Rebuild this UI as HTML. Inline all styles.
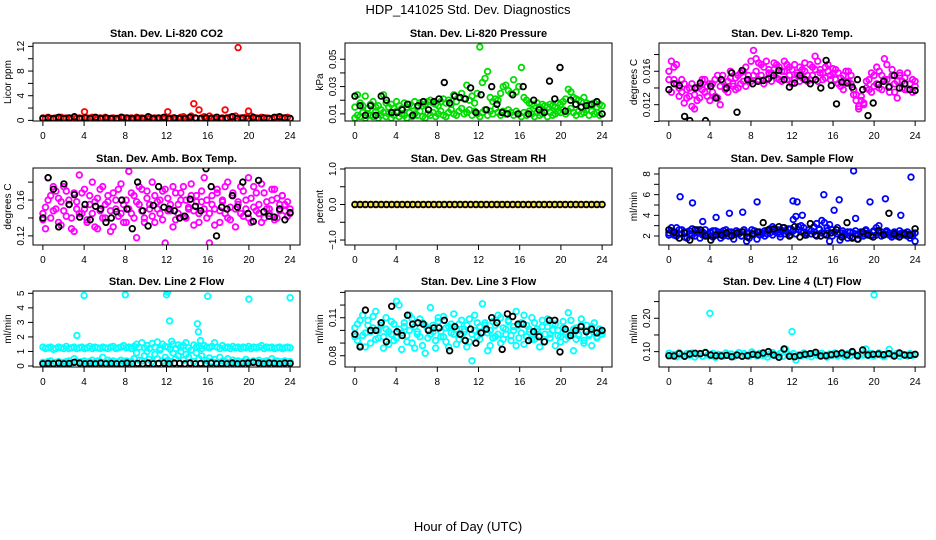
<!DOCTYPE html>
<html><head><meta charset="utf-8">
<style>
html,body{margin:0;padding:0;background:#fff;}
svg{display:block;font-family:"Liberation Sans",sans-serif;}
</style></head>
<body>
<svg id="chart" width="936" height="540" viewBox="0 0 936 540" xmlns="http://www.w3.org/2000/svg">
<text x="468" y="14" text-anchor="middle" font-size="13">HDP_141025  Std. Dev. Diagnostics</text>
<text x="468" y="531" text-anchor="middle" font-size="13">Hour of Day (UTC)</text>
</svg>
<script>
const co2Red=[0.4,0.3,0.5,0.3,0.2,0.4,0.3,0.5,0.3,0.4,0.2,0.3,0.5,0.3,0.4,0.3,1.4,0.4,0.3,0.5,0.3,0.2,0.4,0.3,0.5,0.3,0.3,0.4,0.2,0.3,0.5,0.4,0.3,0.3,0.4,0.2,0.5,0.3,0.4,0.3,0.3,0.5,0.2,0.4,0.3,0.3,0.4,0.3,1.4,0.3,0.4,0.2,0.3,0.5,0.6,0.3,0.4,0.7,2.7,0.3,1.7,0.4,0.6,0.3,0.7,0.4,0.3,0.5,0.3,0.4,1.7,0.3,0.5,0.6,0.7,11.8,0.4,0.3,0.5,1.5,0.7,0.3,0.4,0.3,0.5,0.3,0.4,0.3,0.2,0.4,0.5,0.3,0.4,0.3,0.5,0.3];
const co2Black=[0.3,0.4,0.3,0.5,0.3,0.4,0.6,0.3,0.4,0.3,0.5,0.3,0.4,0.3,0.3,0.5,0.4,0.3,0.4,0.3,0.6,0.3,0.4,0.5,0.3,0.4,0.3,0.3,0.5,0.4,0.3,0.4,0.3,0.5,0.3,0.4,0.6,0.3,0.4,0.3,0.5,0.3,0.4,0.3,0.5,0.6,0.4,0.3];
const pressLow=[0.007,0.009,0.008,0.011,0.007,0.010,0.009,0.008,0.012,0.007,0.009,0.011,0.008,0.010,0.007,0.009,0.012,0.008,0.010,0.009,0.007,0.011,0.008,0.010,0.009,0.012,0.008,0.007,0.010,0.009,0.011,0.008,0.010,0.012,0.009,0.008,0.011,0.013,0.010,0.009,0.012,0.014,0.010,0.011,0.013,0.009,0.012,0.010,0.008,0.011,0.013,0.009,0.012,0.010,0.014,0.011,0.009,0.012,0.010,0.013,0.011,0.009,0.012,0.010,0.008,0.011,0.009,0.012,0.010,0.008,0.011,0.009,0.010,0.012,0.008,0.011,0.009,0.010,0.012,0.011,0.013,0.010,0.012,0.014,0.011,0.009,0.012,0.010,0.011,0.013,0.009,0.012,0.010,0.011,0.009,0.010];
const pressHigh=[0.015,0.024,0.018,0.016,0.023,0.014,0.017,0.019,0.015,0.016,0.013,0.024,0.018,0.015,0.017,0.014,0.019,0.016,0.014,0.018,0.015,0.017,0.016,0.019,0.015,0.018,0.016,0.017,0.019,0.020,0.018,0.017,0.016,0.019,0.021,0.018,0.020,0.017,0.024,0.019,0.022,0.025,0.021,0.031,0.020,0.023,0.018,0.025,0.059,0.033,0.036,0.041,0.022,0.019,0.021,0.020,0.025,0.030,0.031,0.027,0.025,0.035,0.026,0.030,0.044,0.022,0.020,0.018,0.017,0.016,0.018,0.015,0.017,0.016,0.015,0.017,0.016,0.015,0.018,0.017,0.019,0.021,0.028,0.026,0.022,0.021,0.020,0.019,0.022,0.018,0.017,0.016,0.018,0.015,0.017,0.016];
const pressBlack=[0.023,0.016,0.009,0.016,0.009,0.023,0.020,0.011,0.011,0.013,0.017,0.009,0.016,0.019,0.013,0.019,0.021,0.033,0.018,0.023,0.022,0.021,0.029,0.011,0.024,0.013,0.030,0.017,0.011,0.010,0.024,0.010,0.030,0.010,0.020,0.013,0.011,0.034,0.021,0.044,0.012,0.020,0.017,0.015,0.016,0.017,0.019,0.010];
const tempMagA=[0.0160,0.0172,0.0150,0.0168,0.0140,0.0135,0.0145,0.0128,0.0140,0.0118,0.0132,0.0125,0.0142,0.0138,0.0150,0.0130,0.0145,0.0135,0.0150,0.0128,0.0142,0.0155,0.0138,0.0148,0.0160,0.0145,0.0152,0.0140,0.0158,0.0148,0.0165,0.0150,0.0172,0.0185,0.0160,0.0170,0.0155,0.0165,0.0150,0.0162,0.0158,0.0170,0.0152,0.0165,0.0148,0.0160,0.0168,0.0155,0.0162,0.0150,0.0158,0.0165,0.0152,0.0160,0.0148,0.0168,0.0155,0.0162,0.0172,0.0158,0.0150,0.0165,0.0160,0.0155,0.0163,0.0150,0.0158,0.0142,0.0155,0.0148,0.0160,0.0145,0.0138,0.0125,0.0118,0.0130,0.0122,0.0140,0.0150,0.0135,0.0155,0.0145,0.0160,0.0138,0.0150,0.0168,0.0142,0.0155,0.0135,0.0148,0.0158,0.0140,0.0152,0.0138,0.0145,0.0150,0.0142];
const tempMagB=[0.0150,0.0135,0.0165,0.0145,0.0130,0.0150,0.0122,0.0138,0.0130,0.0145,0.0115,0.0140,0.0128,0.0150,0.0135,0.0142,0.0125,0.0145,0.0130,0.0155,0.0120,0.0148,0.0140,0.0135,0.0152,0.0142,0.0138,0.0155,0.0145,0.0160,0.0142,0.0155,0.0148,0.0155,0.0175,0.0150,0.0168,0.0145,0.0172,0.0158,0.0148,0.0162,0.0168,0.0150,0.0160,0.0172,0.0150,0.0165,0.0145,0.0168,0.0155,0.0148,0.0162,0.0170,0.0155,0.0150,0.0165,0.0178,0.0148,0.0162,0.0158,0.0152,0.0168,0.0150,0.0158,0.0162,0.0145,0.0152,0.0138,0.0160,0.0148,0.0155,0.0132,0.0132,0.0115,0.0125,0.0120,0.0148,0.0138,0.0158,0.0142,0.0165,0.0140,0.0155,0.0175,0.0150,0.0135,0.0162,0.0145,0.0128,0.0155,0.0148,0.0138,0.0158,0.0145,0.0135,0.0148];
const tempBlack=[0.0138,0.0145,0.0143,0.0106,0.0101,0.0140,0.0146,0.0101,0.0142,0.0128,0.0150,0.0140,0.0158,0.0111,0.0161,0.0150,0.0145,0.0148,0.0149,0.0151,0.0155,0.0161,0.0150,0.0141,0.0146,0.0155,0.0150,0.0145,0.0150,0.0140,0.0173,0.0143,0.0121,0.0147,0.0146,0.0141,0.0150,0.0138,0.0107,0.0122,0.0144,0.0148,0.0141,0.0155,0.0140,0.0145,0.0138,0.0137];
const ambA=[0.138,0.152,0.185,0.165,0.148,0.170,0.135,0.158,0.175,0.142,0.160,0.128,0.168,0.150,0.188,0.145,0.172,0.138,0.155,0.180,0.130,0.162,0.148,0.175,0.140,0.158,0.125,0.168,0.150,0.142,0.178,0.135,0.160,0.192,0.145,0.165,0.118,0.155,0.172,0.140,0.162,0.150,0.180,0.135,0.158,0.145,0.170,0.112,0.162,0.148,0.175,0.138,0.155,0.168,0.142,0.160,0.150,0.178,0.132,0.165,0.145,0.158,0.185,0.140,0.112,0.165,0.150,0.172,0.135,0.158,0.145,0.180,0.138,0.168,0.150,0.155,0.175,0.142,0.160,0.185,0.135,0.152,0.168,0.145,0.178,0.140,0.158,0.150,0.172,0.138,0.162,0.148,0.165,0.155,0.142,0.150];
const ambB=[0.145,0.128,0.160,0.140,0.175,0.150,0.162,0.132,0.148,0.170,0.155,0.140,0.125,0.158,0.145,0.168,0.150,0.135,0.165,0.145,0.158,0.128,0.172,0.140,0.155,0.165,0.148,0.130,0.160,0.172,0.145,0.155,0.135,0.150,0.168,0.140,0.158,0.175,0.148,0.135,0.170,0.155,0.142,0.165,0.150,0.160,0.138,0.172,0.148,0.155,0.130,0.168,0.145,0.160,0.175,0.140,0.152,0.165,0.148,0.158,0.135,0.170,0.150,0.160,0.145,0.155,0.132,0.168,0.148,0.160,0.175,0.140,0.152,0.165,0.130,0.158,0.145,0.170,0.150,0.140,0.162,0.175,0.148,0.155,0.135,0.168,0.150,0.145,0.160,0.172,0.140,0.155,0.165,0.148,0.158,0.145];
const ambBlack=[0.140,0.185,0.172,0.130,0.178,0.155,0.166,0.141,0.155,0.138,0.153,0.150,0.135,0.140,0.147,0.160,0.150,0.128,0.180,0.148,0.131,0.154,0.175,0.152,0.150,0.148,0.140,0.142,0.161,0.153,0.148,0.195,0.175,0.120,0.152,0.150,0.165,0.152,0.180,0.145,0.136,0.182,0.147,0.142,0.141,0.150,0.138,0.146];
const rhYellow=[0,0,0,0,0,0,0,0,0,0,0,0,0,0,0,0,0,0,0,0,0,0,0,0,0,0,0,0,0,0,0,0,0,0,0,0,0,0,0,0,0,0,0,0,0,0,0,0,0,0,0,0,0,0,0,0,0,0,0,0,0,0,0,0,0,0,0,0,0,0,0,0,0,0,0,0,0,0,0,0,0,0,0,0,0,0,0,0,0,0,0,0,0,0,0,0];
const rhBlack=[0,0,0,0,0,0,0,0,0,0,0,0,0,0,0,0,0,0,0,0,0,0,0,0,0,0,0,0,0,0,0,0,0,0,0,0,0,0,0,0,0,0,0,0,0,0,0,0];
const flowBlueA=[2.3,2.5,2.1,2.8,2.2,2.6,1.9,2.4,2.2,2.7,2.0,2.5,2.3,2.1,2.6,2.2,2.4,1.9,2.5,2.2,2.3,2.0,2.6,2.4,2.1,2.3,2.5,2.2,2.0,2.4,2.3,1.8,2.6,2.2,2.4,2.1,2.3,2.5,2.2,2.7,2.9,2.4,2.6,2.2,2.8,2.5,2.3,2.7,3.6,3.9,2.6,2.4,2.8,2.3,2.6,2.5,2.9,3.2,2.7,3.5,3.3,2.8,3.1,2.6,2.4,2.8,2.3,2.5,2.2,2.4,2.0,2.3,2.5,2.1,2.4,2.2,2.6,2.3,2.1,2.5,2.8,3.0,2.4,2.2,2.5,2.3,2.1,2.4,2.2,2.5,2.3,2.1,2.4,2.2,2.0,1.5];
const flowBlueB=[2.1,2.8,2.3,2.0,2.6,2.2,2.4,1.8,2.5,2.1,2.3,2.6,1.8,2.4,2.2,2.0,2.3,2.5,2.1,2.4,1.8,2.5,2.2,2.0,2.4,1.7,2.2,2.4,2.0,2.6,1.5,2.3,2.1,2.5,1.7,2.4,2.2,2.0,2.5,2.3,2.1,2.6,2.3,1.9,2.5,2.2,2.7,2.1,2.5,2.2,2.9,3.0,2.4,2.1,2.6,2.2,2.4,2.0,2.6,2.3,2.2,2.5,1.5,2.0,2.4,2.2,1.6,2.3,2.1,1.8,2.4,1.9,2.2,1.7,2.3,2.0,2.5,2.2,2.0,2.4,2.1,2.3,2.0,2.2,2.4,2.1,1.9,2.3,2.0,2.2,2.1,2.3,2.0,1.8,2.2,2.3];
const flowOutHours=[1.1,2.3,3.3,4.6,5.9,7.2,8.6,12.1,12.5,13.0,15.1,16.1,16.6,18.0,18.2,19.6,21.1,22.6,23.6];
const flowOutValues=[5.8,5.2,3.4,3.8,4.2,4.3,5.3,5.4,5.3,4.0,6.0,4.5,5.5,8.3,3.7,5.3,5.6,4.0,7.7];
const flowBlack=[2.6,2.4,1.8,2.3,1.6,2.6,2.6,2.0,1.6,2.1,2.1,2.3,2.0,2.3,2.4,1.9,2.2,2.4,3.3,2.6,2.7,2.9,2.8,2.0,2.9,1.9,2.1,3.2,2.1,2.0,2.1,2.3,2.6,1.9,3.3,1.8,1.7,2.4,2.1,1.9,2.5,2.1,4.2,2.2,1.9,2.2,2.1,2.7];
const line2Upper=[1.3,1.2,1.25,1.3,1.15,1.2,1.3,1.25,1.2,1.35,1.2,1.25,1.3,1.2,1.25,1.3,1.2,1.25,1.35,1.2,1.3,1.25,1.2,1.3,1.25,1.2,1.3,1.35,1.2,1.25,1.3,1.4,1.25,1.3,1.2,1.35,1.5,1.3,1.6,1.25,1.4,1.2,1.55,1.3,1.65,1.2,1.5,1.35,1.3,1.15,1.5,1.2,1.45,1.3,1.4,1.6,1.25,1.1,1.45,1.3,1.35,1.2,1.4,1.3,1.25,1.35,1.6,1.3,1.2,1.4,1.25,1.3,1.2,1.35,1.25,1.3,1.2,1.3,1.25,1.35,1.2,1.3,1.25,1.3,1.4,1.2,1.3,1.25,1.3,1.2,1.25,1.3,1.2,1.25,1.3,1.25];
const line2Lower=[0.25,0.2,0.3,0.35,0.2,0.25,0.3,0.2,0.25,0.3,0.35,0.2,0.5,0.3,0.25,0.3,0.35,0.25,0.3,0.4,0.25,0.35,0.3,0.6,0.25,0.4,0.3,0.35,0.25,0.3,0.4,0.3,0.35,0.25,0.3,0.5,0.9,0.4,0.35,0.7,1.0,0.45,0.3,0.8,0.5,1.1,0.35,0.6,0.4,0.3,0.9,0.5,0.7,1.0,0.4,0.8,0.6,1.1,0.3,0.9,0.5,0.7,0.4,0.35,0.55,0.3,0.45,0.25,0.6,0.35,0.3,0.5,0.25,0.4,0.3,0.35,0.25,0.3,0.45,0.3,0.25,0.35,0.3,0.4,0.25,0.3,0.35,0.25,0.5,0.3,0.35,0.25,0.3,0.35,0.25,0.3];
const line2OutHours=[3.3,4.0,8.0,12.0,12.1,12.3,12.5,15.0,15.1,15.3,16.0,20.0,24.0];
const line2OutValues=[2.1,4.85,4.9,4.9,5.1,3.1,1.7,2.9,2.35,1.75,4.8,4.6,4.7];
const line2Black=[0.15,0.18,0.15,0.2,0.15,0.18,0.25,0.2,0.15,0.18,0.15,0.2,0.15,0.18,0.15,0.15,0.2,0.15,0.18,0.15,0.2,0.15,0.18,0.2,0.15,0.2,0.18,0.15,0.2,0.15,0.18,0.15,0.2,0.15,0.18,0.15,0.2,0.15,0.18,0.2,0.25,0.2,0.15,0.2,0.18,0.15,0.2,0.18];
const line3A=[0.095,0.105,0.088,0.112,0.098,0.108,0.090,0.102,0.115,0.094,0.104,0.086,0.110,0.099,0.107,0.092,0.123,0.101,0.085,0.106,0.096,0.112,0.090,0.103,0.097,0.109,0.088,0.104,0.094,0.118,0.099,0.086,0.107,0.095,0.111,0.091,0.103,0.098,0.113,0.089,0.105,0.096,0.101,0.087,0.109,0.076,0.100,0.106,0.093,0.121,0.104,0.098,0.088,0.107,0.095,0.112,0.090,0.102,0.097,0.108,0.092,0.103,0.115,0.094,0.106,0.089,0.104,0.099,0.110,0.093,0.101,0.096,0.108,0.091,0.103,0.097,0.105,0.088,0.100,0.095,0.107,0.093,0.114,0.098,0.084,0.102,0.096,0.109,0.092,0.104,0.097,0.088,0.106,0.095,0.101,0.099];
const line3B=[0.102,0.092,0.108,0.096,0.087,0.104,0.099,0.111,0.093,0.100,0.106,0.095,0.101,0.089,0.097,0.105,0.094,0.120,0.098,0.103,0.091,0.100,0.109,0.086,0.099,0.095,0.106,0.082,0.101,0.097,0.104,0.092,0.110,0.099,0.095,0.102,0.087,0.105,0.097,0.101,0.093,0.108,0.099,0.104,0.091,0.097,0.112,0.095,0.103,0.098,0.106,0.084,0.100,0.094,0.104,0.097,0.110,0.093,0.101,0.107,0.096,0.100,0.088,0.104,0.098,0.112,0.095,0.101,0.093,0.106,0.099,0.087,0.103,0.097,0.109,0.094,0.100,0.105,0.096,0.091,0.102,0.099,0.095,0.108,0.101,0.093,0.097,0.104,0.090,0.100,0.096,0.103,0.098,0.094,0.101,0.097];
const line3Black=[0.097,0.087,0.116,0.100,0.100,0.106,0.091,0.119,0.099,0.096,0.112,0.105,0.106,0.105,0.100,0.102,0.102,0.108,0.084,0.103,0.097,0.092,0.101,0.090,0.098,0.101,0.110,0.106,0.085,0.113,0.111,0.105,0.105,0.092,0.099,0.095,0.091,0.108,0.108,0.083,0.101,0.096,0.100,0.103,0.099,0.101,0.098,0.100];
const line4A=[0.095,0.088,0.092,0.085,0.097,0.090,0.087,0.094,0.089,0.096,0.084,0.091,0.093,0.086,0.098,0.090,0.088,0.095,0.083,0.092,0.090,0.087,0.096,0.089,0.093,0.085,0.091,0.097,0.088,0.094,0.090,0.086,0.099,0.092,0.087,0.095,0.089,0.091,0.084,0.093,0.097,0.088,0.090,0.095,0.086,0.108,0.092,0.089,0.094,0.075,0.090,0.087,0.096,0.089,0.092,0.085,0.094,0.090,0.088,0.095,0.091,0.084,0.093,0.089,0.096,0.087,0.092,0.090,0.085,0.094,0.088,0.097,0.091,0.086,0.093,0.090,0.108,0.088,0.094,0.087,0.091,0.096,0.089,0.085,0.093,0.107,0.090,0.088,0.095,0.086,0.092,0.090,0.087,0.094,0.089,0.091];
const line4OutHours=[4.0,12.0,20.0];
const line4OutValues=[0.215,0.16,0.27];
const line4Black=[0.088,0.087,0.094,0.086,0.093,0.095,0.094,0.097,0.090,0.088,0.087,0.089,0.085,0.090,0.086,0.088,0.092,0.090,0.096,0.100,0.090,0.083,0.108,0.086,0.085,0.089,0.092,0.094,0.098,0.087,0.088,0.091,0.093,0.096,0.090,0.100,0.088,0.105,0.090,0.092,0.093,0.091,0.094,0.087,0.096,0.090,0.089,0.092];
const hourTicks=[0,4,8,12,16,20,24];

const NS="http://www.w3.org/2000/svg";
const svg=document.getElementById('chart');
function mk(tag,attrs,parent){const e=document.createElementNS(NS,tag);for(const k in attrs)e.setAttribute(k,attrs[k]);(parent||svg).appendChild(e);return e;}
const colL=[33,345,659],colR=[300,612,925],rowT=[43,168,291],rowB=[121,245,367];
const panels=[
 {name:'co2',title:'Stan. Dev. Li-820 CO2',ylab:'Licor ppm',dom:[-0.1,12.55],ticks:[0,2,4,6,8,10,12],labels:['0','','4','','8','','12'],
  series:[{v:co2Red,c:'#ff0000'},{v:co2Black,c:'#000000'}]},
 {name:'pressure',title:'Stan. Dev. Li-820 Pressure',ylab:'kPa',dom:[0.0048,0.0619],ticks:[0.01,0.02,0.03,0.04,0.05],labels:['0.01','','0.03','','0.05'],
  series:[{v:pressLow,c:'#00dd00'},{v:pressHigh,c:'#00dd00'},{v:pressBlack,c:'#000000'}]},
 {name:'li820-temp',title:'Stan. Dev. Li-820 Temp.',ylab:'degrees C',dom:[0.01005,0.01938],ticks:[0.010,0.012,0.014,0.016,0.018],labels:['','0.012','','0.016',''],
  series:[{v:tempMagA,c:'#ff00ff'},{v:tempMagB,c:'#ff00ff'},{v:tempBlack,c:'#000000'}]},
 {name:'amb-box-temp',title:'Stan. Dev. Amb. Box Temp.',ylab:'degrees C',dom:[0.1098,0.1958],ticks:[0.12,0.14,0.16,0.18],labels:['0.12','','0.16',''],
  series:[{v:ambA,c:'#ff00ff'},{v:ambB,c:'#ff00ff'},{v:ambBlack,c:'#000000'}]},
 {name:'gas-stream-rh',title:'Stan. Dev. Gas Stream RH',ylab:'percent',dom:[-1.14,1.028],ticks:[-1,-0.5,0,0.5,1],labels:['\u22121.0','','0.0','','1.0'],
  series:[{v:rhYellow,c:'#ffdd00'},{v:rhBlack,c:'#000000'}]},
 {name:'sample-flow',title:'Stan. Dev. Sample Flow',ylab:'ml/min',dom:[1.13,8.58],ticks:[2,3,4,5,6,7,8],labels:['2','','4','','6','','8'],
  series:[{v:flowBlueA,c:'#0000ff'},{v:flowBlueB,c:'#0000ff'},{h:flowOutHours,v:flowOutValues,c:'#0000ff'},{v:flowBlack,c:'#000000'}]},
 {name:'line2-flow',title:'Stan. Dev. Line 2 Flow',ylab:'ml/min',dom:[-0.07,5.16],ticks:[0,1,2,3,4,5],labels:['0','1','2','3','4','5'],
  series:[{v:line2Upper,c:'#00ffff'},{v:line2Lower,c:'#00ffff'},{h:line2OutHours,v:line2OutValues,c:'#00ffff'},{v:line2Black,c:'#000000'}]},
 {name:'line3-flow',title:'Stan. Dev. Line 3 Flow',ylab:'ml/min',dom:[0.0711,0.1311],ticks:[0.08,0.09,0.10,0.11,0.12,0.13],labels:['0.08','','','0.11','',''],
  series:[{v:line3A,c:'#00ffff'},{v:line3B,c:'#00ffff'},{v:line3Black,c:'#000000'}]},
 {name:'line4-flow',title:'Stan. Dev. Line 4 (LT) Flow',ylab:'ml/min',dom:[0.054,0.2817],ticks:[0.10,0.15,0.20,0.25],labels:['0.10','','0.20',''],
  series:[{v:line4A,c:'#00ffff'},{h:line4OutHours,v:line4OutValues,c:'#00ffff'},{v:line4Black,c:'#000000'}]}
];
panels.forEach((p,idx)=>{
  const L=colL[idx%3],R=colR[idx%3],T=rowT[Math.floor(idx/3)],B=rowB[Math.floor(idx/3)];
  const g=mk('g',{});
  
  
  const xS=h=>L+(h+0.96)/25.92*(R-L);
  const yS=v=>B-(v-p.dom[0])/(p.dom[1]-p.dom[0])*(B-T);
  const clip=mk('clipPath',{id:'clip'+idx},g);
  mk('rect',{x:L,y:T,width:R-L,height:B-T},clip);
  const pts=mk('g',{'clip-path':'url(#clip'+idx+')'},g);
  
  
  p.series.forEach(s=>{
    const n=s.v.length;
    s.v.forEach((v,i)=>{
      const hr=s.h?s.h[i]:i*24/(n-1);
      const c=mk('circle',{cx:xS(hr).toFixed(1),cy:yS(v).toFixed(1),r:2.8,fill:'none',stroke:s.c,'stroke-width':1.8},pts);
      
      
    });
  });
  const box=mk('rect',{x:L,y:T,width:R-L,height:B-T,fill:'none',stroke:'#000','stroke-width':1},g);
  
  
  const t=mk('text',{x:(L+R)/2,y:T-6,'text-anchor':'middle','font-size':11,'font-weight':'bold'},g);
  t.textContent=p.title;
  
  
  hourTicks.forEach(h=>{
    const x=xS(h);
    mk('line',{x1:x,y1:B,x2:x,y2:B+5,stroke:'#000'},g);
    const tl=mk('text',{x:x,y:B+18,'text-anchor':'middle','font-size':10},g);
    tl.textContent=h;
    
    
  });
  p.ticks.forEach((tv,i)=>{
    const y=yS(tv);
    if(y<T-0.5||y>B+0.5)return;
    mk('line',{x1:L-5,y1:y,x2:L,y2:y,stroke:'#000'},g);
    if(p.labels[i]){
      const yl=mk('text',{x:0,y:0,'text-anchor':'middle','font-size':10,transform:'translate('+(L-9)+','+y+') rotate(-90)'},g);
      yl.textContent=p.labels[i];
      
      
    }
  });
  const yt=mk('text',{x:0,y:0,'text-anchor':'middle','font-size':10,transform:'translate('+(L-22)+','+((T+B)/2)+') rotate(-90)'},g);
  yt.textContent=p.ylab;
  
  
});
</script>
</body></html>
